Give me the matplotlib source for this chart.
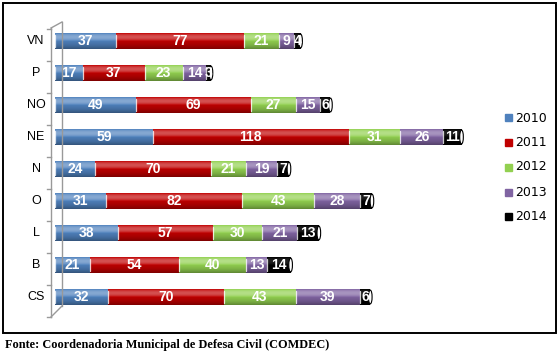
import matplotlib
matplotlib.use("Agg")
import matplotlib.pyplot as plt
import numpy as np
from matplotlib.lines import Line2D
from matplotlib.patches import Rectangle, Ellipse

categories = ["CS", "B", "L", "O", "N", "NE", "NO", "P", "VN"]
years = ["2010", "2011", "2012", "2013", "2014"]
v2010 = [32, 21, 38, 31, 24, 59, 49, 17, 37]
v2011 = [70, 54, 57, 82, 70, 118, 69, 37, 77]
v2012 = [43, 40, 30, 43, 21, 31, 27, 23, 21]
v2013 = [39, 13, 21, 28, 19, 26, 15, 14, 9]
v2014 = [6, 14, 13, 7, 7, 11, 6, 3, 4]
series = [v2010, v2011, v2012, v2013, v2014]
colors = ["#4F81BD", "#C00000", "#92D050", "#8064A2", "#000000"]

W, H = 559, 356
fig = plt.figure(figsize=(W / 100, H / 100), dpi=100)
fig.patch.set_facecolor("white")

def fx(px):
    return px / W

def fy(py):
    return 1 - py / H

ax = fig.add_axes([fx(55), fy(313), fx(503) - fx(55), fy(25) - fy(313)])
ax.set_xlim(0, 270)
ax.set_ylim(-0.5, len(categories) - 0.5)
ax.axis("off")

y = np.arange(len(categories))
left = np.zeros(len(categories))
bh = 0.47


def shade(c, f):
    c = np.array(matplotlib.colors.to_rgb(c))
    if f >= 0:
        return c + (1 - c) * f
    return c * (1 + f)


for vals, col in zip(series, colors):
    vals = np.array(vals, dtype=float)
    bars = ax.barh(y, vals, left=left, height=bh, color=col, edgecolor="none", zorder=2)
    for rect, v in zip(bars, vals):
        x0, y0 = rect.get_x(), rect.get_y()
        w, h = rect.get_width(), rect.get_height()
        n = 40
        t = np.linspace(0, 1, n)
        prof = np.where(t > 0.5, 0.32 * np.sin((t - 0.5) / 0.5 * np.pi) ** 0.7, 0)
        prof = prof - 0.35 * (1 - t) ** 3
        img = np.array([shade(col, p) if col != "#000000" else shade("#000000", max(p, 0) * 0.4) for p in prof])
        img = np.clip(img, 0, 1)[:, None, :]
        ax.imshow(img, extent=(x0, x0 + w, y0, y0 + h), origin="lower",
                  aspect="auto", zorder=3, interpolation="bilinear")
        ax.plot([x0, x0], [y0 + h * 0.08, y0 + h * 0.92], color="white", lw=0.9,
                alpha=0.8, zorder=4, solid_capstyle="round")
        ax.text(x0 + w / 2, y0 + h / 2, f"{int(v)}", ha="center", va="center",
                color="white", fontsize=10, fontweight="bold",
                family="Liberation Sans", zorder=5)
    left = left + vals

# end caps
for yi, tot in zip(y, left):
    ax.add_patch(Ellipse((tot, yi), 2.2, bh * 0.92, facecolor="white",
                         edgecolor="black", lw=0.8, zorder=4))

ax.set_xlim(0, 270)
ax.set_ylim(-0.5, len(categories) - 0.5)

for yi, cat in zip(y, categories):
    ax.text(-19 / 1.66, yi, cat, ha="center", va="center", fontsize=9,
            family="Liberation Sans", color="#000000")

gray = "#999999"
fig.add_artist(Line2D([fx(51), fx(51)], [fy(28), fy(317)], color=gray, lw=1.0))
fig.add_artist(Line2D([fx(62), fx(62)], [fy(22), fy(306)], color=gray, lw=1.0))
fig.add_artist(Line2D([fx(51), fx(62)], [fy(28), fy(22)], color=gray, lw=1.0))
fig.add_artist(Line2D([fx(51), fx(62)], [fy(317), fy(306)], color=gray, lw=1.0))
for k in range(len(categories) + 1):
    py = 313 - k * 32
    fig.add_artist(Line2D([fx(47), fx(51)], [fy(py + 4), fy(py + 4)], color=gray, lw=1.0))

ly = [118, 143, 167, 192, 216]
for yr, col, py in zip(years, colors, ly):
    fig.add_artist(Rectangle((fx(505), fy(py + 3.5)), fx(7), fy(0) - fy(7), color=col,
                             transform=fig.transFigure))
    fig.text(fx(515), fy(py), yr, ha="left", va="center", fontsize=9,
             family="DejaVu Sans", color="#000000")

fig.add_artist(Rectangle((fx(3), fy(333)), fx(553), fy(3) - fy(333), fill=False,
                         edgecolor="black", lw=1.4, transform=fig.transFigure))

fig.text(fx(5), fy(345), "Fonte: Coordenadoria Municipal de Defesa Civil (COMDEC)",
         ha="left", va="center", fontsize=8.8, fontweight="bold",
         family="Liberation Serif", color="black")

fig.savefig("out.png", dpi=100)
